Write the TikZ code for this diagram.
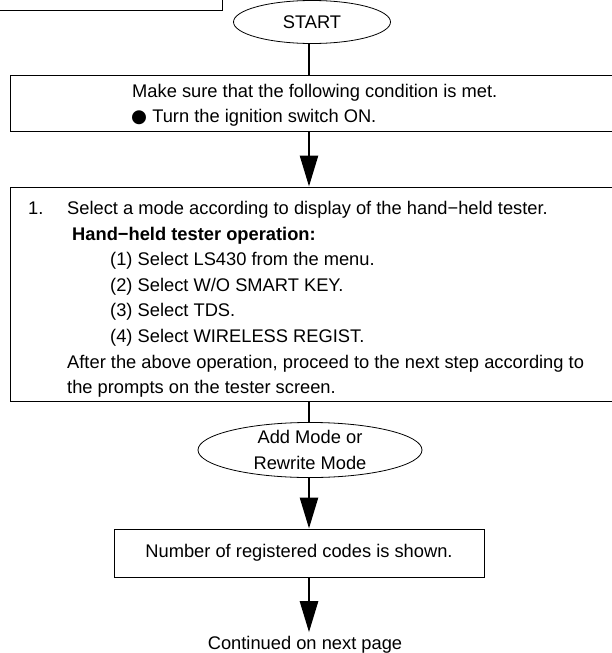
\documentclass[tikz,border=0pt]{standalone}
\usepackage{fontspec}
\setmainfont{Liberation Sans}
\newfontfamily\dotfont{DejaVu Sans}
\usetikzlibrary{shapes.geometric,arrows.meta}

\begin{document}
\begin{tikzpicture}[x=1pt,y=-1pt,
  every node/.style={font=\fontsize{18.3}{25.5}\selectfont},
  stepbox/.style={draw,line width=1pt,inner sep=0pt},
  term/.style={draw,ellipse,line width=0.8pt,inner sep=0pt,align=center},
  txt/.style={anchor=base west,inner sep=0pt},
  boldtxt/.style={txt,font=\fontsize{18.3}{25.5}\selectfont\bfseries},
  flow/.style={line width=2.6pt},
  flowarrow/.style={flow,-{Triangle[length=31pt,width=18pt]}}]
  \useasboundingbox (0,0) rectangle (612,653);
  \draw[line width=1pt] (-2,-40) rectangle (222,10);
  \coordinate (spine) at (309,0);
  % terminals and boxes
  \node[term,minimum width=157pt,minimum height=43pt] (start) at (312,22) {START};
  \node[stepbox,minimum width=603pt,minimum height=56pt] (cond) at (311.5,103) {};
  \node[stepbox,minimum width=603pt,minimum height=214pt] (oper) at (311.5,294) {};
  \node[term,minimum width=224pt,minimum height=54pt] (mode) at (310,450) {Add Mode or\\Rewrite Mode};
  \node[stepbox,minimum width=370pt,minimum height=48pt] (count) at (299,553) {Number of registered codes is shown.};
  \node[anchor=base] (cont) at (305,649) {Continued on next page};
  % texts
  \node[txt] (cond1) at (132,97) {Make sure that the following condition is met.};
  \node[txt] (cond2) at (131,122) {{\dotfont ●} Turn the ignition switch ON.};
  \node[txt] (num) at (28,214) {1.};
  \node[txt] (sel) at (67,214) {Select a mode according to display of the hand−held tester.};
  \node[boldtxt] (hh) at (72,240) {Hand−held tester operation:};
  \foreach \t [count=\i] in {Select LS430 from the menu., Select W/O SMART KEY., Select TDS., Select WIRELESS REGIST.}
    \node[txt] (op\i) at (110,{240+25.6*\i}) {(\i) \t};
  \node[txt] (after1) at (67,368) {After the above operation, proceed to the next step according to};
  \node[txt] (after2) at (67,393) {the prompts on the tester screen.};
  % connectors
  \draw[flow] (spine) -- (spine |- start.north);
  \draw[flow] (spine |- start.south) -- (spine |- cond.north);
  \draw[flowarrow] (spine |- cond.south) -- (spine |- oper.north);
  \draw[flow] (spine |- oper.south) -- (spine |- mode.north);
  \draw[flowarrow] (spine |- mode.south) -- (spine |- count.north);
  \draw[flowarrow] (spine |- count.south) -- (spine |- cont.north);
\end{tikzpicture}
\end{document}
